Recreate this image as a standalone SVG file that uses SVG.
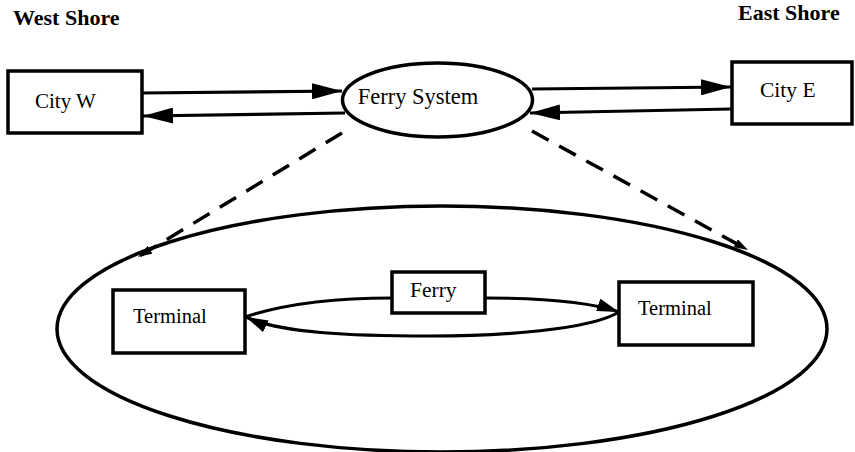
<svg xmlns="http://www.w3.org/2000/svg" width="855" height="452" viewBox="0 0 855 452">
<style>
.box{fill:#fff;stroke:#000;stroke-width:3.5}
.ell{fill:none;stroke:#000;stroke-width:3.5}
.lbl{font-family:"Liberation Serif","Times New Roman",serif;font-size:21px;fill:#000}
.hdr{font-family:"Liberation Serif","Times New Roman",serif;font-size:22px;font-weight:bold;fill:#000}
.ln{fill:none;stroke:#000;stroke-width:3.2}
.dash{fill:none;stroke:#000;stroke-width:3.5;stroke-dasharray:19 12}
</style>
<defs>
<marker id="ah" viewBox="0 0 30 16" refX="30" refY="8" markerWidth="30" markerHeight="16" markerUnits="userSpaceOnUse" orient="auto">
<path d="M0,0 L30,8 L0,16 Z" fill="#000"/>
</marker>
<marker id="ahs" viewBox="0 0 22 13" refX="22" refY="6.5" markerWidth="22" markerHeight="13" markerUnits="userSpaceOnUse" orient="auto">
<path d="M0,0 L22,6.5 L0,13 Z" fill="#000"/>
</marker>
<marker id="aht" viewBox="0 0 14 9" refX="14" refY="4.5" markerWidth="14" markerHeight="9" markerUnits="userSpaceOnUse" orient="auto">
<path d="M0,0 L14,4.5 L0,9 Z" fill="#000"/>
</marker>
</defs>
<text class="hdr" x="13" y="25">West Shore</text>
<text class="hdr" x="738" y="20">East Shore</text>
<g id="connectors">
<line class="ln" x1="142" y1="93" x2="342" y2="91" marker-end="url(#ah)"/>
<line class="ln" x1="345" y1="113" x2="143" y2="116" marker-end="url(#ah)"/>
<line class="ln" x1="532" y1="89" x2="731" y2="87" marker-end="url(#ah)"/>
<line class="ln" x1="731" y1="109" x2="530" y2="113" marker-end="url(#ah)"/>
<line class="dash" x1="342" y1="133" x2="138" y2="257" marker-end="url(#aht)"/>
<line class="dash" x1="532" y1="131" x2="748" y2="250" marker-end="url(#aht)"/>
<path class="ln" d="M245,317 C290,302 340,298 392,298"/>
<path class="ln" d="M485,298 C540,298 590,302 619,312" marker-end="url(#ahs)"/>
<path class="ln" d="M619,312 C590,330 500,336 430,336 C350,336 280,333 246,317" marker-end="url(#ahs)"/>
</g>
<g id="city-w">
<rect class="box" x="8" y="71" width="134" height="62"/>
<text class="lbl" x="35" y="108">City W</text>
</g>
<g id="ferry-system">
<ellipse class="ell" cx="437.5" cy="100" rx="95" ry="37" fill="#fff"/>
<text class="lbl" x="418" y="104" text-anchor="middle" style="font-size:22.5px">Ferry System</text>
</g>
<g id="city-e">
<rect class="box" x="732" y="62" width="120" height="62"/>
<text class="lbl" x="760" y="97" style="font-size:21.5px">City E</text>
</g>
<g id="ferry-system-detail">
<ellipse class="ell" cx="442" cy="329" rx="385" ry="123"/>
</g>
<g id="terminal-west">
<rect class="box" x="113" y="290" width="132" height="63"/>
<text class="lbl" x="133" y="323" style="font-size:20.5px">Terminal</text>
</g>
<g id="ferry">
<rect class="box" x="392" y="272" width="93" height="41"/>
<text class="lbl" x="410" y="297" style="font-size:21.5px">Ferry</text>
</g>
<g id="terminal-east">
<rect class="box" x="619" y="282" width="134" height="63"/>
<text class="lbl" x="638" y="315" style="font-size:20.5px">Terminal</text>
</g>
</svg>
